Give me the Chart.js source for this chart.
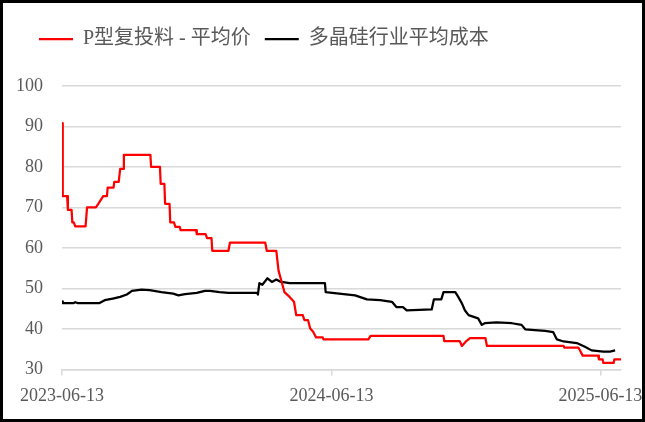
<!DOCTYPE html>
<html>
<head>
<meta charset="utf-8">
<script src="https://cdn.jsdelivr.net/npm/chart.js@4"></script>
<style>
    html, body { margin: 0; padding: 0; background: #fff; }
    .wrap { position: relative; width: 645px; height: 422px; }
    .wrap canvas { position: absolute; left: 0; top: 0; }
    .frame { position: absolute; left: 0; top: 0; right: 0; bottom: 0; border: 3px solid #000; pointer-events: none; }
</style>
</head>
<body>
<div class="wrap">
    <canvas id="lineChart" width="645" height="422"></canvas>
    <div class="frame"></div>
</div>
<script>
// Series - P型复投料 平均价 (turning points)
const redDates = ['2023-06-13', '2023-06-14', '2023-06-20', '2023-06-21', '2023-06-26', '2023-06-27', '2023-06-29', '2023-07-01',
    '2023-07-15', '2023-07-17', '2023-07-29', '2023-08-01', '2023-08-08', '2023-08-13', '2023-08-14', '2023-08-22', '2023-08-23',
    '2023-08-29', '2023-08-31', '2023-09-04', '2023-09-05', '2023-10-11', '2023-10-12', '2023-10-24', '2023-10-25', '2023-10-30',
    '2023-10-31', '2023-11-06', '2023-11-07', '2023-11-12', '2023-11-14', '2023-11-20', '2023-11-21', '2023-12-12', '2023-12-13',
    '2023-12-25', '2023-12-27', '2024-01-02', '2024-01-03', '2024-01-25', '2024-01-27', '2024-03-15', '2024-03-17', '2024-03-30',
    '2024-04-02', '2024-04-10', '2024-04-17', '2024-04-23', '2024-04-26', '2024-05-05', '2024-05-07', '2024-05-12', '2024-05-15',
    '2024-05-19', '2024-05-23', '2024-06-01', '2024-06-02', '2024-08-02', '2024-08-05', '2024-11-12', '2024-11-13', '2024-12-04',
    '2024-12-07', '2024-12-13', '2024-12-18', '2025-01-08', '2025-01-10', '2025-04-24', '2025-04-25', '2025-05-14', '2025-05-16',
    '2025-05-20', '2025-06-10', '2025-06-11', '2025-06-16', '2025-06-17', '2025-07-01', '2025-07-02', '2025-07-11'];
const redValues = [90.8, 72.8, 72.8, 69.4, 69.4, 66.3, 66.3, 65.3,
    65.3, 70.0, 70.0, 70.8, 72.8, 72.8, 74.9, 74.9, 76.3,
    76.3, 79.5, 79.5, 83.0, 83.0, 80.0, 80.0, 75.8, 75.8,
    70.9, 70.9, 66.3, 66.3, 65.2, 65.2, 64.4, 64.4, 63.4,
    63.4, 62.4, 62.4, 59.3, 59.3, 61.3, 61.3, 59.3, 59.3,
    54.4, 49.1, 47.9, 46.7, 43.4, 43.4, 42.2, 42.2, 40.1,
    39.3, 37.9, 37.9, 37.4, 37.4, 38.3, 38.3, 37.0, 37.0,
    35.8, 37.0, 37.7, 37.7, 35.8, 35.8, 35.4, 35.4, 34.8,
    33.4, 33.4, 32.5, 32.5, 31.6, 31.6, 32.5, 32.5];

// Series - 多晶硅行业平均成本
const blackDates = ['2023-06-13', '2023-06-14', '2023-06-29', '2023-07-01', '2023-07-04', '2023-08-03', '2023-08-10', '2023-08-21',
    '2023-08-31', '2023-09-09', '2023-09-16', '2023-09-29', '2023-10-10', '2023-10-26', '2023-11-11', '2023-11-18', '2023-11-27',
    '2023-12-13', '2023-12-24', '2023-12-31', '2024-01-13', '2024-01-25', '2024-03-04', '2024-03-05', '2024-03-07', '2024-03-11',
    '2024-03-18', '2024-03-24', '2024-03-30', '2024-04-04', '2024-04-17', '2024-06-04', '2024-06-05', '2024-06-14', '2024-07-15',
    '2024-07-31', '2024-08-18', '2024-09-03', '2024-09-09', '2024-09-18', '2024-09-23', '2024-10-27', '2024-10-30', '2024-11-09',
    '2024-11-12', '2024-11-28', '2024-12-02', '2024-12-07', '2024-12-11', '2024-12-16', '2024-12-29', '2025-01-03', '2025-01-07',
    '2025-01-23', '2025-02-13', '2025-02-26', '2025-03-03', '2025-03-16', '2025-03-30', '2025-04-10', '2025-04-15', '2025-04-24',
    '2025-05-12', '2025-05-23', '2025-06-01', '2025-06-17', '2025-06-26', '2025-07-03'];
const blackValues = [46.8, 46.4, 46.4, 46.6, 46.4, 46.4, 47.1, 47.5,
    47.9, 48.5, 49.4, 49.7, 49.6, 49.1, 48.7, 48.3, 48.6,
    48.9, 49.4, 49.4, 49.1, 48.9, 48.9, 48.5, 51.3, 50.9,
    52.5, 51.6, 52.2, 51.7, 51.3, 51.3, 49.1, 48.9, 48.3,
    47.3, 47.1, 46.7, 45.4, 45.4, 44.6, 44.8, 47.3, 47.3,
    49.1, 49.1, 47.9, 46.3, 44.6, 43.4, 42.6, 41.0, 41.4,
    41.6, 41.4, 41.0, 39.9, 39.7, 39.5, 39.2, 37.4, 36.9,
    36.5, 35.6, 34.7, 34.4, 34.4, 34.7];

// Axis ticks
const tickLabels = ['2023-06-13', '2024-06-13', '2025-06-13'];
const yTicks = [30, 40, 50, 60, 70, 80, 90, 100];

document.addEventListener('DOMContentLoaded', function() {
    const DAY = 86400000;
    const start = Date.parse(tickLabels[0]);
    const toDay = d => (Date.parse(d) - start) / DAY;
    const toPoints = (dates, values) => dates.map((d, i) => ({ x: toDay(d), y: values[i] }));
    const tickDays = tickLabels.map(toDay);
    const lastDay = Math.max(...redDates.map(toDay), ...blackDates.map(toDay));

    const axisFont = { family: "'Liberation Serif', 'Times New Roman', serif", size: 18 };
    const gridColor = '#d9d9d9';

    // push the plot down under the legend, and nudge the legend to the right
    const legendTweak = {
        id: 'legendTweak',
        beforeInit(chart) {
            const fit = chart.legend.fit;
            chart.legend.fit = function() {
                fit.call(this);
                this.height += 27;
            };
        },
        afterLayout(chart) {
            chart.legend.left += 13;
        }
    };

    const ctx = document.getElementById('lineChart').getContext('2d');
    new Chart(ctx, {
        type: 'line',
        data: {
            datasets: [{
                label: 'P型复投料 - 平均价',
                data: toPoints(redDates, redValues),
                borderColor: '#ff0000',
                backgroundColor: '#ff0000',
                borderWidth: 2.25,
                borderJoinStyle: 'round',
                pointRadius: 0,
                tension: 0
            }, {
                label: '多晶硅行业平均成本',
                data: toPoints(blackDates, blackValues),
                borderColor: '#000000',
                backgroundColor: '#000000',
                borderWidth: 2.25,
                borderJoinStyle: 'round',
                pointRadius: 0,
                tension: 0
            }]
        },
        options: {
            responsive: false,
            animation: false,
            layout: {
                padding: { left: 12, right: 24, top: 15, bottom: 5 }
            },
            plugins: {
                legend: {
                    position: 'top',
                    align: 'start',
                    labels: {
                        usePointStyle: true,
                        pointStyle: 'line',
                        pointStyleWidth: 34,
                        padding: 14,
                        color: '#595959',
                        font: { family: "'Liberation Serif', 'Noto Sans CJK SC', serif", size: 20 }
                    }
                },
                tooltip: { enabled: false }
            },
            scales: {
                x: {
                    type: 'linear',
                    min: 0,
                    max: lastDay,
                    afterBuildTicks: function(scale) {
                        scale.ticks = tickDays.map(v => ({ value: v }));
                    },
                    afterFit: function(scale) {
                        // let the end labels hang over the plot edges
                        scale.paddingLeft = 0;
                        scale.paddingRight = 0;
                    },
                    ticks: {
                        autoSkip: false,
                        maxRotation: 0,
                        padding: 10,
                        color: '#595959',
                        font: axisFont,
                        callback: function(value) {
                            return tickLabels[tickDays.indexOf(value)];
                        }
                    },
                    grid: {
                        drawOnChartArea: false,
                        drawTicks: true,
                        tickLength: 6,
                        color: gridColor,
                        lineWidth: 1.5
                    },
                    border: { display: true, color: gridColor, width: 1.5 }
                },
                y: {
                    min: 30,
                    max: 100,
                    afterBuildTicks: function(scale) {
                        scale.ticks = yTicks.map(v => ({ value: v }));
                    },
                    afterFit: function(scale) {
                        scale.width = 50;
                    },
                    ticks: {
                        padding: 19,
                        color: '#595959',
                        font: axisFont
                    },
                    grid: {
                        drawTicks: false,
                        color: gridColor,
                        lineWidth: 1.5
                    },
                    border: { display: false }
                }
            }
        },
        plugins: [legendTweak]
    });
});
</script>
</body>
</html>
